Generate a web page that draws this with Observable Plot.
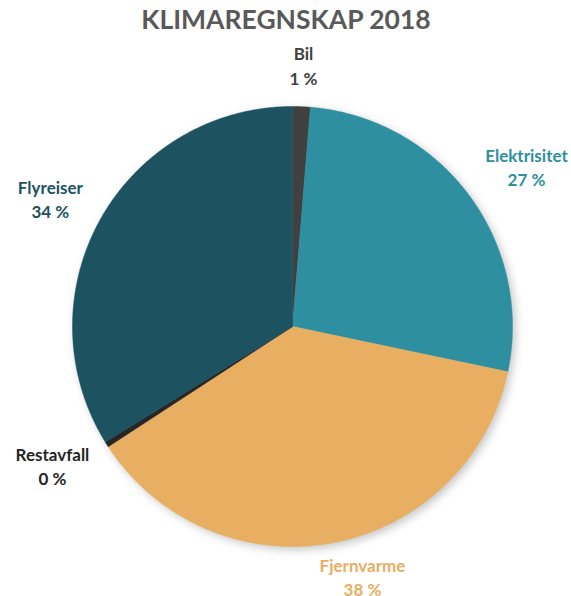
<!DOCTYPE html>
<html>
<head>
<meta charset="utf-8">
<script src="https://cdn.jsdelivr.net/npm/d3@7"></script>
<script src="https://cdn.jsdelivr.net/npm/@observablehq/plot@0.6"></script>
<style>
  html, body { margin: 0; padding: 0; background: #fff; }
  #chart svg { display: block; }
</style>
</head>
<body>
<div id="chart"></div>
<script>
// ---- data ----
const title = "KLIMAREGNSKAP 2018";
const categories = ["Bil", "Elektrisitet", "Fjernvarme", "Restavfall", "Flyreiser"];
const shares = [1.3, 27.0, 37.5, 0.4, 33.8];

// ---- styles / layout (not data) ----
const colors = ["#404040", "#2e8fa1", "#e8ae62", "#262626", "#1d5360"];
const labelColors = ["#404040", "#2e8fa1", "#e8ae62", "#262626", "#1d5360"];
const labelRadius = {Bil: 1.191, Elektrisitet: 1.289, Fjernvarme: 1.179, Restavfall: 1.26, Flyreiser: 1.246};
const labelAngleShift = {Bil: 0.07, Elektrisitet: 2.31, Fjernvarme: -5.03, Restavfall: 2.4, Flyreiser: -1.19};

const W = 571, H = 596, CX = 292, CY = 326, R = 220;

// pie geometry from the data (angles clockwise from 12 o'clock)
const pie = d3.pie().sort(null).value(d => d.share)
  (categories.map((name, i) => ({name, share: shares[i]})));

const polys = [];
pie.forEach(p => {
  const name = p.data.name;
  polys.push({name, x: 0, y: 0});
  const n = Math.max(4, Math.ceil((p.endAngle - p.startAngle) / 0.005));
  for (let k = 0; k <= n; k++) {
    const a = p.startAngle + (p.endAngle - p.startAngle) * k / n;
    polys.push({name, x: Math.sin(a), y: Math.cos(a)});
  }
  polys.push({name, x: 0, y: 0});
});

const labels = pie.map(p => {
  const name = p.data.name;
  const mid = (p.startAngle + p.endAngle) / 2 + labelAngleShift[name] * Math.PI / 180;
  const r = labelRadius[name];
  return {
    name,
    text: name + "\n" + Math.round(p.data.share) + " %",
    x: r * Math.sin(mid),
    y: r * Math.cos(mid)
  };
});

const chart = Plot.plot({
  width: W,
  height: H,
  margin: 0,
  x: {domain: [-CX / R, (W - CX) / R], axis: null},
  y: {domain: [-(H - CY) / R, CY / R], axis: null},
  color: {domain: categories, range: colors},
  style: {background: "#fff"},
  marks: [
    Plot.line(polys, {x: "x", y: "y", z: "name", fill: "name", stroke: "name", strokeWidth: 0.5, curve: "linear"}),
    Plot.text(labels, {
      x: "x", y: "y", text: "text",
      fill: d => labelColors[categories.indexOf(d.name)],
      fontFamily: "Lato, 'Open Sans', sans-serif",
      fontWeight: "bold", fontSize: 17, lineHeight: 1.43,
      textAnchor: "middle"
    }),
    Plot.text([title], {
      frameAnchor: "top", dy: 10, text: d => d,
      fill: "#595959", fontFamily: "Lato, 'Open Sans', sans-serif",
      fontWeight: "bold", fontSize: 26.5
    })
  ]
});

document.getElementById("chart").appendChild(chart);
d3.select(chart).select("g[aria-label='line']")
  .style("filter", "drop-shadow(3px 3px 4px rgba(0,0,0,0.22))");
</script>
</body>
</html>
